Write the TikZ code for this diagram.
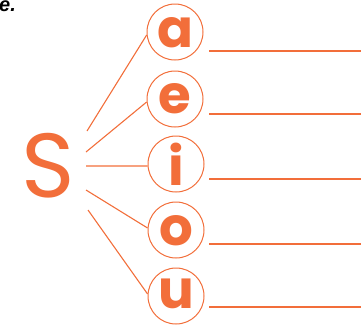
\documentclass[tikz,border=0pt]{standalone}
\usepackage{fontspec}
\setmainfont{Poppins}
\newfontfamily\lsans{Liberation Sans}
\definecolor{org}{HTML}{F26E3A}
\tikzset{
  vowel/.style={circle,draw=org,line width=1pt,minimum size=56pt,inner sep=0pt},
  vlet/.style={text=org,font=\fontsize{53}{53}\selectfont\bfseries,anchor=base,inner sep=0pt},
  spoke/.style={draw=org,line width=1.1pt},
  wline/.style={draw=org,line width=1.4pt}
}
\begin{document}
\begin{tikzpicture}[x=1pt,y=-1pt]
\useasboundingbox (0,0) rectangle (361,325);
\clip (0,0) rectangle (361,325);
\node[anchor=base west,inner sep=0pt,font=\lsans\bfseries\itshape\fontsize{20}{20}\selectfont] (ee) at (-1,11) {e.};
\node[text=org,font=\fontsize{91}{91}\selectfont,anchor=base,inner sep=0pt] (S) at (48,197) {S};
% circles
\node[vowel] (ca) at (175,32) {};
\node[vowel] (ce) at (175,99) {};
\node[vowel] (ci) at (176,164) {};
\node[vowel] (co) at (176,230) {};
\node[vowel] (cu) at (176,296) {};
% letters
\node[vlet] (la) at (175,47) {a};
\node[vlet] (le) at (175,113) {e};
\node[vlet] (li) at (176,185) {i};
\node[vlet] (lo) at (176,245) {o};
\node[vlet] (lu) at (176,308) {u};
% spoke starts
\coordinate (sa) at (87,131);
\coordinate (se) at (86,152);
\coordinate (si) at (86,166);
\coordinate (so) at (86,190);
\coordinate (su) at (88,210);
\draw[spoke] (sa) -- (ca.186);
\draw[spoke] (se) -- (ce.186);
\draw[spoke] (si) -- (ci.184);
\draw[spoke] (so) -- (co.176);
\draw[spoke] (su) -- (cu.176);
% writing lines
\coordinate (wa0) at (209,51);  \coordinate (wa1) at (361,51);
\coordinate (we0) at (209,114); \coordinate (we1) at (361,114);
\coordinate (wi0) at (209,179); \coordinate (wi1) at (361,179);
\coordinate (wo0) at (209,244); \coordinate (wo1) at (361,244);
\coordinate (wu0) at (209,307); \coordinate (wu1) at (361,307);
\draw[wline] (wa0) -- (wa1);
\draw[wline] (we0) -- (we1);
\draw[wline] (wi0) -- (wi1);
\draw[wline] (wo0) -- (wo1);
\draw[wline] (wu0) -- (wu1);
\end{tikzpicture}
\end{document}
